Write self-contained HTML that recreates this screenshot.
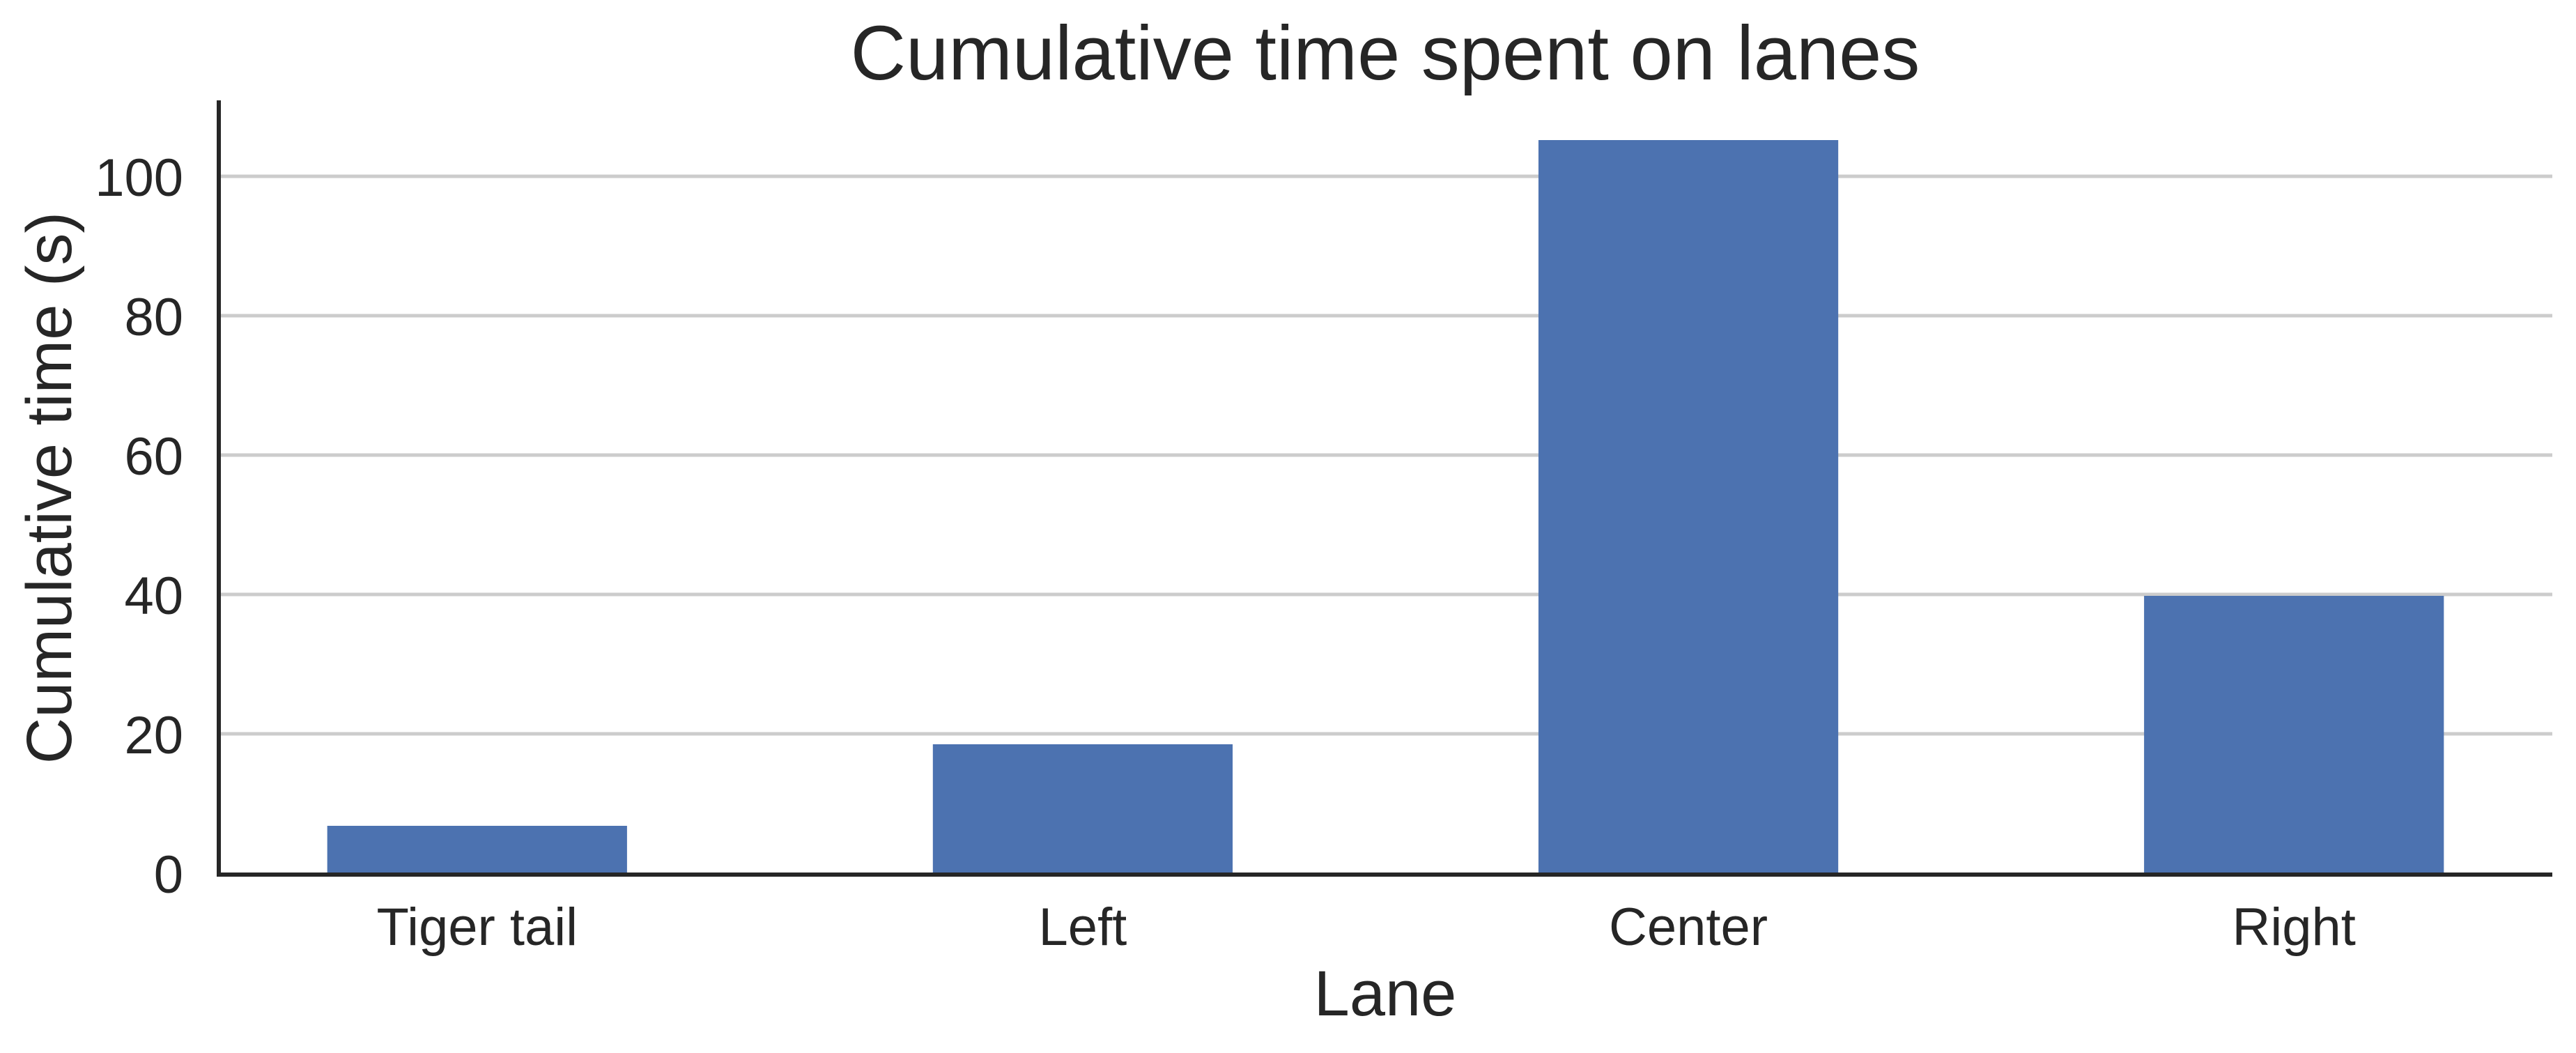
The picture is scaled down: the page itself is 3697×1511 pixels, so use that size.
<!DOCTYPE html>
<html><head><meta charset="utf-8"><style>
html,body{margin:0;padding:0;background:#fff;}
svg{display:block;font-family:"Liberation Sans",Arial,sans-serif;}
</style></head><body>
<svg id="chart" width="3697" height="1511" viewBox="0 0 3697 1511" xmlns="http://www.w3.org/2000/svg">
<rect x="0" y="0" width="3697" height="1511" fill="#ffffff"/>
<g id="grid"></g>
<g id="bars"></g>
<g id="axes"></g>
<text x="1988" y="114" font-size="110" fill="#262626" text-anchor="middle">Cumulative time spent on lanes</text>
<text x="1988" y="1457" font-size="92" fill="#262626" text-anchor="middle">Lane</text>
<text transform="translate(102,700) rotate(-90)" font-size="92" fill="#262626" text-anchor="middle">Cumulative time (s)</text>
</svg>
<script>
const categories = ["Tiger tail", "Left", "Center", "Right"];
const values = [6.8, 18.5, 105.2, 39.8];
const yTicks = [0, 20, 40, 60, 80, 100];
const yTickLabels = ["0", "20", "40", "60", "80", "100"];

const NS = "http://www.w3.org/2000/svg";
const plotL = 314, plotR = 3663, plotT = 144, plotB = 1253;
const xMin = -0.4266, xMax = 3.4266;
const yMax = 110.9;
const barW = 0.495;
function xs(v){ return plotL + (v - xMin) / (xMax - xMin) * (plotR - plotL); }
function ys(v){ return plotB - v / yMax * (plotB - plotT); }
function mk(tag, attrs, parent){ const e = document.createElementNS(NS, tag); for (const k in attrs) e.setAttribute(k, attrs[k]); parent.appendChild(e); return e; }

const grid = document.getElementById('grid');
const axes = document.getElementById('axes');
const bars = document.getElementById('bars');

yTicks.forEach((t, i) => {
  if (t !== 0) {
    const l = mk('line', {x1: plotL, x2: plotR, y1: ys(t), y2: ys(t), stroke: '#cccccc', 'stroke-width': 5}, grid);
    
    
  }
  const tx = mk('text', {x: 263, y: ys(t) + 28, 'font-size': 76, fill: '#262626', 'text-anchor': 'end'}, axes);
  tx.textContent = yTickLabels[i];
  
  
});

categories.forEach((c, i) => {
  const x0 = xs(i - barW / 2), x1 = xs(i + barW / 2);
  const r = mk('rect', {x: x0, y: ys(values[i]), width: x1 - x0, height: plotB - ys(values[i]), fill: '#4c72b0'}, bars);
  
  
  const tx = mk('text', {x: xs(i), y: 1356, 'font-size': 76, fill: '#262626', 'text-anchor': 'middle'}, axes);
  tx.textContent = c;
  
  
});

const yAxis = mk('line', {x1: plotL, x2: plotL, y1: plotT, y2: plotB + 5, stroke: '#262626', 'stroke-width': 6}, axes);


const xAxis = mk('line', {x1: plotL - 3, x2: plotR, y1: plotB + 2, y2: plotB + 2, stroke: '#262626', 'stroke-width': 6}, axes);


</script>
</body></html>
